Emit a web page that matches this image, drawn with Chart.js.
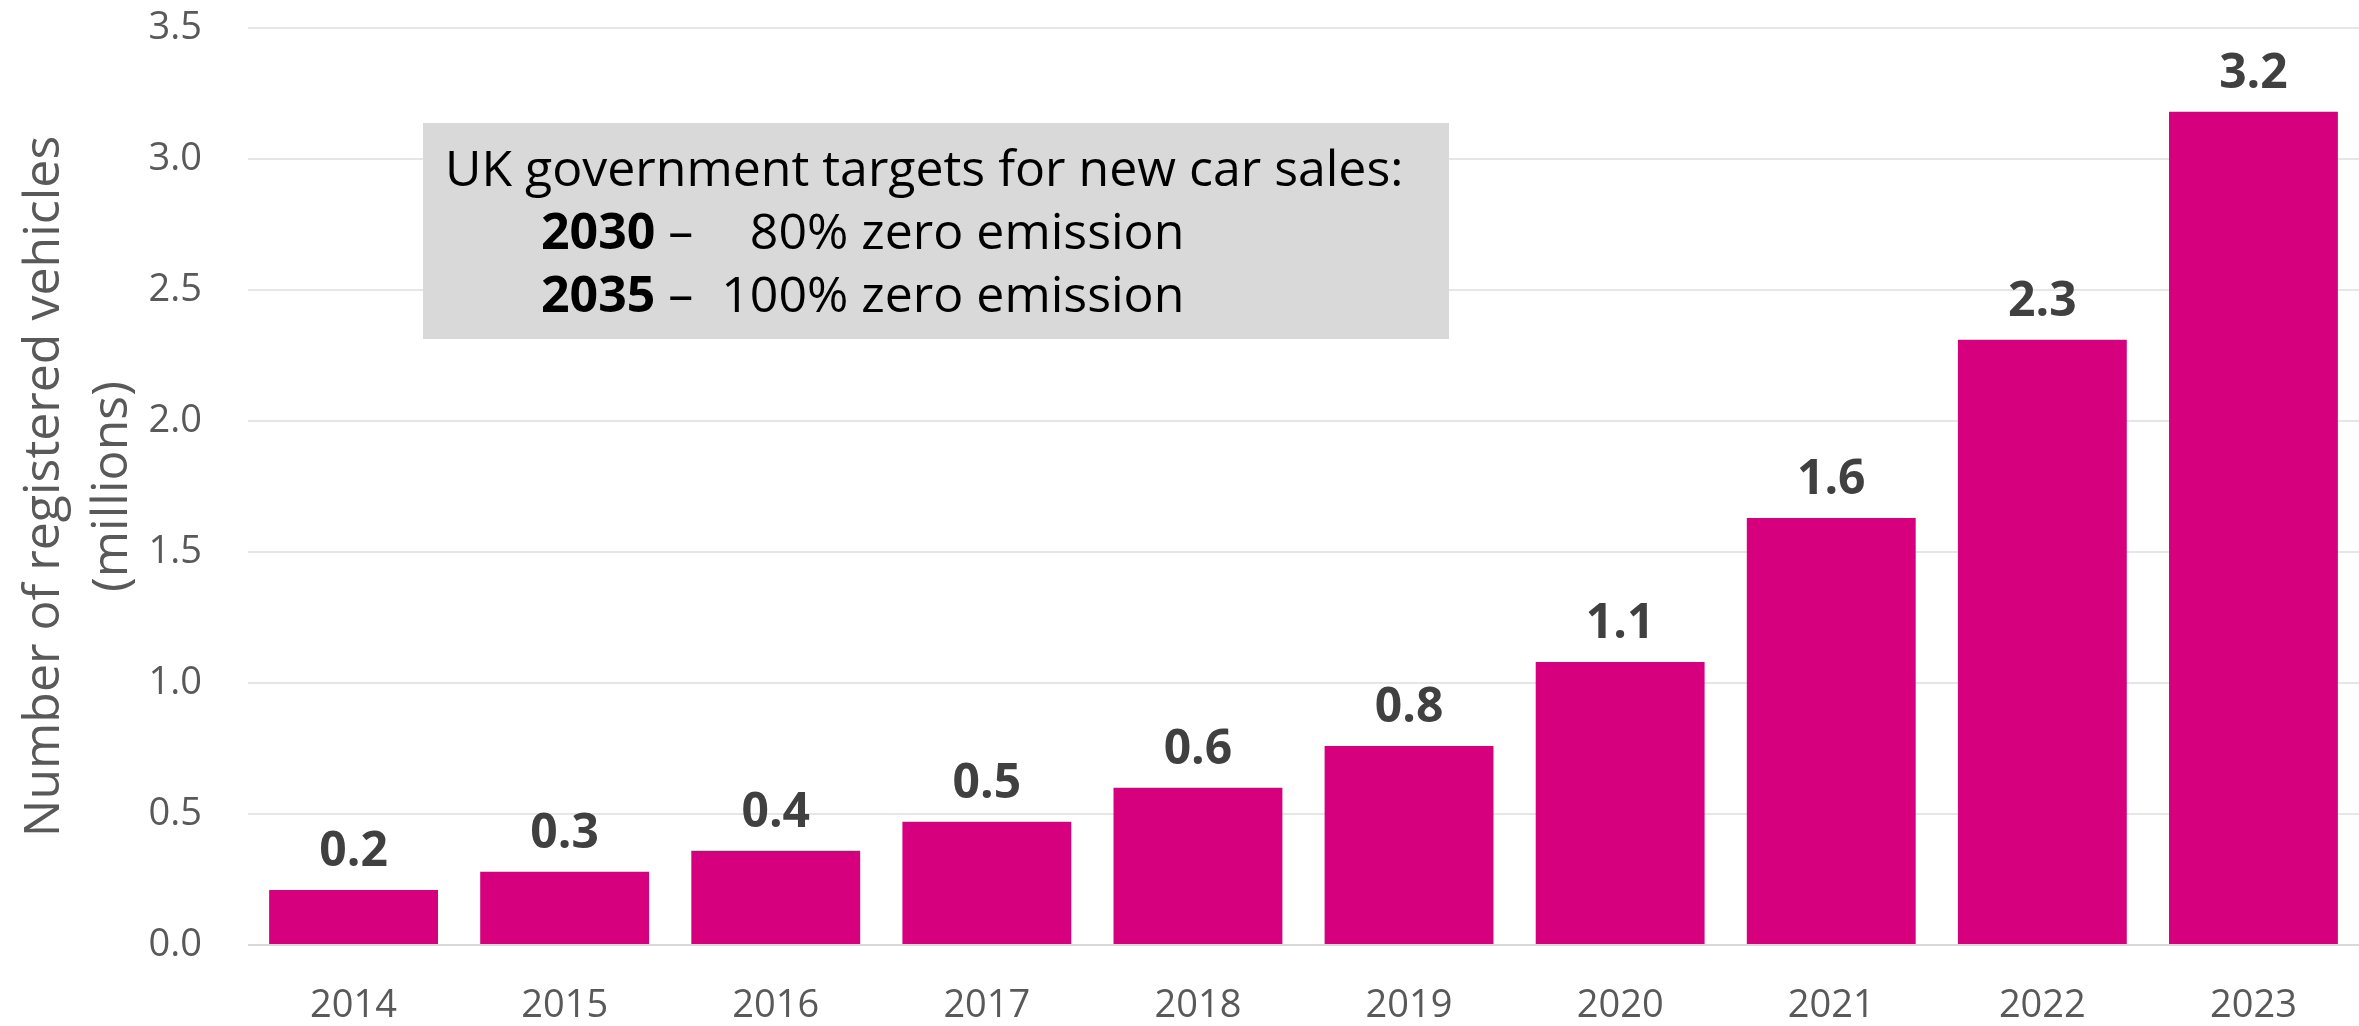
<!DOCTYPE html>
<html>
<head>
<meta charset="utf-8">
<script src="https://cdn.jsdelivr.net/npm/chart.js@4/dist/chart.umd.min.js"></script>
<style>
  body { margin: 0; background: #fff; }
  #wrap { position: relative; width: 2359px; height: 1026px; }
  #note {
    position: absolute; left: 423px; top: 123px; width: 1026px; height: 216px;
    box-sizing: border-box; padding: 13px 0 0 22px;
    background: #d9d9d9; color: #000;
    font-family: "Open Sans", sans-serif; font-size: 50px; line-height: 63px;
    white-space: nowrap;
  }
  #note .row { padding-left: 96px; }
  #note .pct { display: inline-block; width: 142px; text-align: right; }
</style>
</head>
<body>
<div id="wrap">
  <canvas id="evChart"></canvas>
  <div id="note">
    <div>UK government targets for new car sales:</div>
    <div class="row"><b>2030</b> – <span class="pct">80%</span> zero emission</div>
    <div class="row"><b>2035</b> – <span class="pct">100%</span> zero emission</div>
  </div>
</div>
<script>
// registered plug-in cars in the UK, millions
const years = ['2014', '2015', '2016', '2017', '2018', '2019', '2020', '2021', '2022', '2023'];
const vehicles = [0.21, 0.28, 0.36, 0.47, 0.60, 0.76, 1.08, 1.63, 2.31, 3.18];
const yTicks = [0, 0.5, 1.0, 1.5, 2.0, 2.5, 3.0, 3.5];

const barColor = '#d6007f';
const axisGrey = '#595959';

// value printed above each bar
const barLabels = {
    id: 'barLabels',
    afterDatasetsDraw(chart) {
        let ctx = chart.ctx;
        let meta = chart.getDatasetMeta(0);
        ctx.save();
        ctx.font = 'bold 48px "Open Sans"';
        ctx.fillStyle = '#404040';
        ctx.textAlign = 'center';
        ctx.textBaseline = 'alphabetic';
        meta.data.forEach((bar, i) => {
            ctx.fillText(vehicles[i].toFixed(1), bar.x, bar.y - 24);
        });
        ctx.restore();
    }
};

new Chart(document.getElementById('evChart'), {
    type: 'bar',
    data: {
        labels: years,
        datasets: [{
            data: vehicles,
            backgroundColor: barColor,
            barPercentage: 0.8,
            categoryPercentage: 1.0,
        }]
    },
    options: {
        responsive: true,
        maintainAspectRatio: false,
        animation: false,
        layout: { padding: { top: 28, right: 0, bottom: 0, left: 0 } },
        plugins: {
            legend: { display: false },
            tooltip: { enabled: false },
        },
        scales: {
            x: {
                grid: { display: false },
                border: { display: false },
                ticks: {
                    color: axisGrey,
                    font: { family: 'Open Sans', size: 38 },
                    padding: 30,
                    maxRotation: 0,
                },
                afterFit: (scale) => { scale.height = 81; },
            },
            y: {
                min: 0,
                max: 3.5,
                afterBuildTicks: (scale) => { scale.ticks = yTicks.map(v => ({ value: v })); },
                grid: {
                    color: (c) => c.tick && c.tick.value === 0 ? '#d9d9d9' : '#e6e6e6',
                    lineWidth: 2,
                    drawTicks: false,
                },
                border: { display: false },
                ticks: {
                    color: axisGrey,
                    font: { family: 'Open Sans', size: 38 },
                    padding: 46,
                    callback: (v) => v.toFixed(1),
                },
                title: {
                    display: true,
                    text: ['Number of registered vehicles', '(millions)'],
                    color: axisGrey,
                    font: { family: 'Open Sans', size: 50, lineHeight: 1.35 },
                    padding: { top: 11, bottom: 0 },
                },
                afterFit: (scale) => {
                    scale.width = 248;
                    // tick padding should not push the plot area down
                    scale.paddingTop = 0;
                    scale.paddingBottom = 0;
                },
            }
        }
    },
    plugins: [barLabels]
});
</script>
</body>
</html>
